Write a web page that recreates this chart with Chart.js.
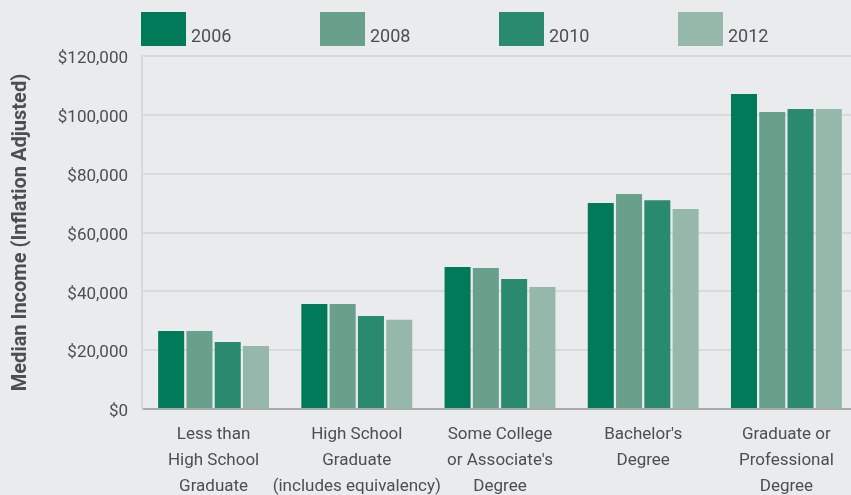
<!DOCTYPE html>
<html>
<head>
<meta charset="utf-8">
<script src="https://cdn.jsdelivr.net/npm/chart.js@4.4.1/dist/chart.umd.min.js"></script>
<style>
  html, body { margin: 0; padding: 0; background: #eaebed; overflow: hidden; width: 851px; height: 495px; }
  #wrap { width: 858px; height: 495px; }
</style>
</head>
<body>
<div id="wrap"><canvas id="c" width="858" height="495"></canvas></div>
<script>
// ---- data ----
const categories = [
  ["Less than", "High School", "Graduate"],
  ["High School", "Graduate", "(includes equivalency)"],
  ["Some College", "or Associate's", "Degree"],
  ["Bachelor's", "Degree"],
  ["Graduate or", "Professional", "Degree"]
];
const seriesNames = ["2006", "2008", "2010", "2012"];
const values2006 = [26500, 35700, 48300, 70000, 107100];
const values2008 = [26500, 35700, 47900, 73100, 101000];
const values2010 = [22800, 31600, 44200, 71000, 102000];
const values2012 = [21400, 30300, 41500, 68000, 102000];
const yTickValues = [0, 20000, 40000, 60000, 80000, 100000, 120000];
const yTitle = "Median Income (Inflation Adjusted)";

// ---- styles ----
const colors = ["#007a58", "#68a08b", "#2a8a70", "#96b8aa"];
const textColor = "#4d4e53";
const FONT = 'Roboto, "Liberation Sans", sans-serif';

const bgPlugin = {
  id: 'bg',
  beforeDraw(chart) {
    const ctx = chart.ctx;
    ctx.save();
    ctx.fillStyle = '#eaebed';
    ctx.fillRect(0, 0, chart.width, chart.height);
    ctx.restore();
  }
};

const rowLegend = {
  id: 'rowLegend',
  afterDraw(chart, args, opts) {
    const ctx = chart.ctx;
    ctx.save();
    chart.data.datasets.forEach((ds, i) => {
      const x = opts.x0 + i * opts.step;
      ctx.fillStyle = ds.backgroundColor;
      ctx.fillRect(x, opts.top, opts.boxW, opts.boxH);
      ctx.fillStyle = textColor;
      ctx.font = opts.fontSize + 'px ' + FONT;
      ctx.textBaseline = 'alphabetic';
      ctx.textAlign = 'left';
      ctx.fillText(ds.label, x + opts.boxW + opts.gap, opts.baseline);
    });
    ctx.restore();
  }
};

const datasets = [values2006, values2008, values2010, values2012].map((vals, i) => ({
  label: seriesNames[i],
  data: vals,
  backgroundColor: colors[i],
  borderWidth: 0,
  categoryPercentage: 0.79,
  barPercentage: 0.92
}));

new Chart(document.getElementById('c'), {
  type: 'bar',
  data: { labels: categories, datasets },
  plugins: [bgPlugin, rowLegend],
  options: {
    responsive: false,
    animation: false,
    devicePixelRatio: 1,
    layout: { padding: { top: 56, right: 0, bottom: 0, left: 0 } },
    plugins: {
      legend: { display: false },
      tooltip: { enabled: false },
      rowLegend: { x0: 141, step: 179, top: 12, boxW: 45, boxH: 34, gap: 5, baseline: 42, fontSize: 18 }
    },
    scales: {
      x: {
        afterFit(scale) { scale.height = 86; },
        grid: { display: false, drawTicks: false },
        border: { display: true, color: '#a9aaac', width: 2 },
        ticks: {
          color: textColor,
          font: { family: FONT, size: 17, lineHeight: 26 / 17 },
          padding: 13,
          maxRotation: 0,
          autoSkip: false
        }
      },
      y: {
        min: 0,
        max: 120000,
        afterBuildTicks(scale) { scale.ticks = yTickValues.map(v => ({ value: v })); },
        afterFit(scale) { scale.width = 142; },
        grid: { color: '#d8d9db', lineWidth: 2, drawTicks: false },
        border: { display: true, color: '#d8d9db', width: 2 },
        ticks: {
          color: textColor,
          font: { family: FONT, size: 17 },
          padding: 14,
          labelOffset: 3,
          callback: v => '$' + Number(v).toLocaleString('en-US')
        },
        title: {
          display: true,
          text: yTitle,
          color: textColor,
          font: { family: FONT, size: 20, weight: 'bold' },
          padding: { top: 9, bottom: 0 }
        }
      }
    }
  }
});
</script>
</body>
</html>
